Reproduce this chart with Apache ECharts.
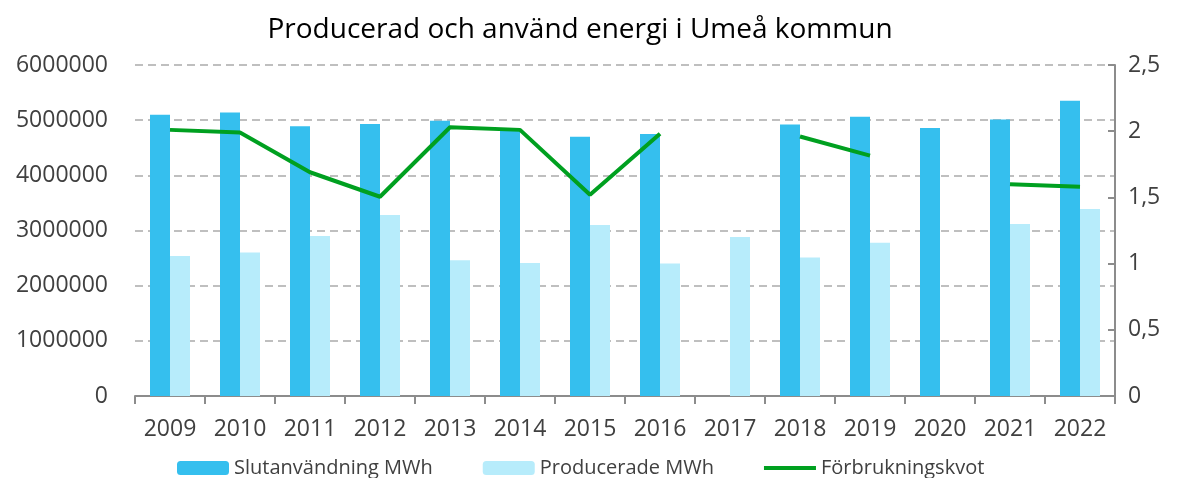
<!DOCTYPE html>
<html lang="sv">

<head>
    <meta charset="UTF-8">
    <title>Producerad och använd energi i Umeå kommun</title>
    <script src="https://cdn.jsdelivr.net/npm/echarts@6/dist/echarts.min.js"></script>
    <style>
        body { margin: 0; background: #fff; }
    </style>
</head>

<body>
    <div id="main" style="width: 1177px;height:478px;"></div>
</body>
<script>
    // data
    var years = ['2009', '2010', '2011', '2012', '2013', '2014', '2015', '2016', '2017', '2018', '2019', '2020', '2021', '2022'];
    var slutanvandning = [5100000, 5140000, 4890000, 4930000, 4990000, 4820000, 4700000, 4750000, null, 4920000, 5060000, 4860000, 5010000, 5350000];
    var producerade = [2540000, 2600000, 2900000, 3280000, 2460000, 2410000, 3100000, 2400000, 2880000, 2510000, 2780000, null, 3120000, 3390000];
    var kvot = [2.01, 1.99, 1.69, 1.505, 2.03, 2.01, 1.52, 1.98, null, 1.96, 1.815, null, 1.60, 1.58];

    var font = 'Open Sans';
    var textColor = '#404040';

    var myChart = echarts.init(document.getElementById('main'));

    var option = {
        animation: false,
        title: {
            text: 'Producerad och använd energi i Umeå kommun',
            left: 575,
            textAlign: 'center',
            top: 11,
            textStyle: {
                fontFamily: font,
                fontSize: 28,
                fontWeight: 'normal',
                color: '#000'
            }
        },
        legend: {
            bottom: -5,
            left: 172,
            itemWidth: 52,
            itemHeight: 14,
            itemGap: 50,
            textStyle: {
                fontFamily: font,
                fontSize: 20,
                color: textColor
            },
            data: ['Slutanvändning MWh', 'Producerade MWh', {
                name: 'Förbrukningskvot',
                // thin line inside a 14px tall box
                icon: 'path://M0,5 L52,5 L52,9 L0,9 Z M0,0 L0.01,0 L0,0.01 Z M0,14 L0.01,14 L0,13.99 Z'
            }]
        },
        grid: {
            left: 135,
            right: 62,
            top: 65,
            bottom: 82
        },
        xAxis: {
            type: 'category',
            data: years,
            axisLine: { lineStyle: { color: '#8c8c8c', width: 2 } },
            axisTick: { show: true, length: 8, lineStyle: { color: '#8c8c8c', width: 2 } },
            axisLabel: {
                margin: 22,
                fontFamily: font,
                fontSize: 23,
                color: textColor
            }
        },
        yAxis: [{
            type: 'value',
            min: 0,
            max: 6000000,
            interval: 1000000,
            axisLine: { show: false },
            axisTick: { show: false },
            splitLine: {
                lineStyle: { color: '#aaaaaa', width: 1.5, type: [8, 5] }
            },
            axisLabel: {
                margin: 27,
                fontFamily: font,
                fontSize: 23,
                color: textColor,
                formatter: function (v) {
                    return String(v);
                }
            }
        }, {
            type: 'value',
            min: 0,
            max: 2.5,
            interval: 0.5,
            position: 'right',
            axisLine: { show: true, lineStyle: { color: '#8c8c8c', width: 2 } },
            axisTick: { show: true, inside: true, length: 7, lineStyle: { color: '#8c8c8c', width: 2 } },
            splitLine: { show: false },
            axisLabel: {
                margin: 13,
                fontFamily: font,
                fontSize: 23,
                color: textColor,
                formatter: function (v) {
                    return String(v).replace('.', ',');
                }
            }
        }],
        series: [{
            name: 'Slutanvändning MWh',
            type: 'bar',
            data: slutanvandning,
            barWidth: 20,
            barGap: '0%',
            itemStyle: { color: '#35bfee' }
        }, {
            name: 'Producerade MWh',
            type: 'bar',
            data: producerade,
            barWidth: 20,
            itemStyle: { color: '#b7ecfb' }
        }, {
            name: 'Förbrukningskvot',
            type: 'line',
            yAxisIndex: 1,
            data: kvot,
            symbol: 'none',
            connectNulls: false,
            lineStyle: { color: '#00a020', width: 4 },
            itemStyle: { color: '#00a020' }
        }]
    };

    myChart.setOption(option);
</script>

</html>
